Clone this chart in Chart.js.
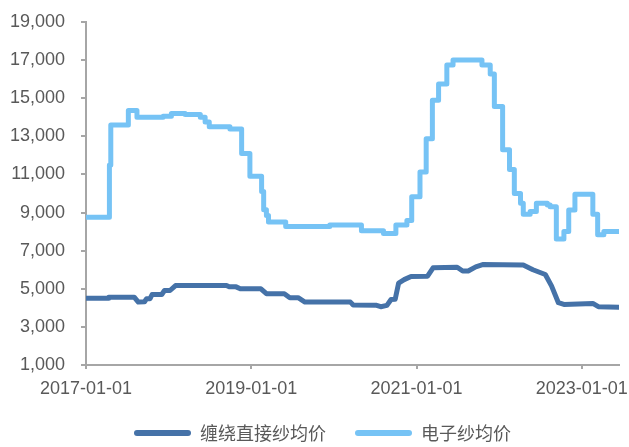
<!DOCTYPE html>
<html>
<head>
<meta charset="utf-8">
<script src="https://cdn.jsdelivr.net/npm/chart.js@4/dist/chart.umd.min.js"></script>
<style>
html, body { margin: 0; padding: 0; background: #fff; }
#wrap { width: 629px; height: 447px; }
</style>
</head>
<body>
<div id="wrap"><canvas id="yarnChart"></canvas></div>
<script>
// x = months counted from 2017-01-01
var windingMonths = [0, 3.2, 3.3, 7.0, 7.6, 8.5, 8.8, 9.3, 9.6, 11.0, 11.4, 12.2, 13.0, 20.4, 20.8, 21.8, 22.4, 25.4,
    26.2, 28.8, 29.6, 30.8, 31.8, 38.4, 38.8, 42.2, 42.8, 43.7, 44.3, 44.9, 45.4, 46.2, 47.2, 49.6, 50.4, 53.9,
    54.7, 55.5, 56.6, 57.6, 63.5, 64.9, 66.7, 67.6, 68.6, 69.4, 73.6, 74.4, 77.4];
var windingPrices = [4500, 4500, 4560, 4560, 4300, 4320, 4480, 4480, 4700, 4700, 4910, 4910, 5170, 5170, 5100, 5100, 5000, 5000,
    4740, 4740, 4530, 4530, 4300, 4300, 4150, 4130, 4060, 4130, 4440, 4450, 5300, 5480, 5650, 5660, 6100, 6130,
    5930, 5930, 6150, 6270, 6250, 6000, 5750, 5150, 4270, 4180, 4230, 4060, 4030];

var electronicMonths = [0, 3.4, 3.6, 6.15, 7.4, 11.2, 12.4, 14.4, 16.6, 17.3, 17.9, 20.9, 22.6, 23.8, 25.5, 25.8, 26.2, 26.5,
    29.0, 35.4, 40.0, 43.2, 45.0, 46.6, 47.3, 48.5, 49.4, 50.3, 51.2, 52.4, 53.3, 57.5, 58.7, 59.3, 60.5, 61.5,
    62.2, 63.1, 63.5, 64.5, 65.4, 67.0, 67.4, 68.3, 69.4, 70.1, 71.0, 73.6, 74.3, 75.2, 77.4];
var electronicPrices = [8750, 11500, 13600, 14350, 14000, 14050, 14200, 14150, 14000, 13750, 13500, 13380, 12100, 10900, 10100, 9150, 8850, 8500,
    8270, 8350, 8050, 7900, 8350, 8580, 9830, 11130, 12870, 14900, 15750, 16740, 17000, 16750, 16270, 14560, 12300, 11260,
    10000, 9490, 8910, 9050, 9490, 9400, 9310, 7610, 8000, 9140, 9960, 8910, 7830, 8000, 8000];

var tickYears = [2017, 2019, 2021, 2023];
var seriesNames = ['缠绕直接纱均价', '电子纱均价'];

function toPoints(xs, ys) {
    return xs.map(function (x, i) { return {x: x, y: ys[i]}; });
}

var axisGray = '#a6a6a6';
var textGray = '#595959';

// legend sits a little right of centre in the original
var legendShift = {
    id: 'legendShift',
    afterLayout: function (chart) {
        chart.legend.left += 13;
        chart.legend.right += 13;
    }
};

var yarnChart = new Chart(document.getElementById('yarnChart'), {
    type: 'line',
    data: {
        datasets: [
            {
                label: seriesNames[0],
                data: toPoints(windingMonths, windingPrices),
                borderColor: '#4572a8',
                backgroundColor: '#4572a8',
                borderWidth: 5,
                pointRadius: 0,
                borderCapStyle: 'round',
                borderJoinStyle: 'round',
                fill: false
            },
            {
                label: seriesNames[1],
                data: toPoints(electronicMonths, electronicPrices),
                borderColor: '#76c3f5',
                backgroundColor: '#76c3f5',
                borderWidth: 5,
                pointRadius: 0,
                stepped: true,
                borderCapStyle: 'round',
                borderJoinStyle: 'round',
                fill: false
            }
        ]
    },
    plugins: [legendShift],
    options: {
        responsive: true,
        maintainAspectRatio: false,
        animation: false,
        layout: {padding: {top: 22, right: 10, left: 0, bottom: -5}},
        plugins: {
            tooltip: {enabled: false},
            legend: {
                position: 'bottom',
                labels: {
                    boxWidth: 57,
                    boxHeight: 6,
                    useBorderRadius: true,
                    borderRadius: 3,
                    padding: 29,
                    color: textGray,
                    font: {size: 18, family: '"Noto Sans CJK SC"'},
                    generateLabels: function (chart) {
                        var items = Chart.defaults.plugins.legend.labels.generateLabels(chart);
                        items.forEach(function (it) {
                            it.fillStyle = it.strokeStyle;
                            it.lineWidth = 0;
                        });
                        return items;
                    }
                }
            }
        },
        scales: {
            x: {
                type: 'linear',
                min: 0,
                max: 77.4,
                ticks: {
                    stepSize: 24,
                    includeBounds: false,
                    autoSkip: false,
                    maxRotation: 0,
                    padding: 9,
                    color: textGray,
                    font: {size: 18, family: '"Liberation Sans"'},
                    callback: function (v) {
                        var yr = 2017 + Math.round(v / 12);
                        return tickYears.indexOf(yr) >= 0 ? yr + '-01-01' : '';
                    }
                },
                grid: {drawOnChartArea: false, tickLength: 4, color: axisGray, lineWidth: 2},
                border: {color: axisGray, width: 2},
                afterFit: function (s) {
                    s.paddingLeft = 0;
                    s.paddingRight = 0;
                    s.height = 30;
                }
            },
            y: {
                min: 1000,
                max: 19000,
                ticks: {
                    stepSize: 2000,
                    padding: 16,
                    color: textGray,
                    font: {size: 18, family: '"Liberation Sans"'}
                },
                grid: {drawOnChartArea: false, tickLength: 5, color: axisGray, lineWidth: 2},
                border: {color: axisGray, width: 2},
                afterFit: function (s) {
                    s.width = 86;
                    s.paddingTop = 0;
                    s.paddingBottom = 0;
                }
            }
        }
    }
});
</script>
</body>
</html>
